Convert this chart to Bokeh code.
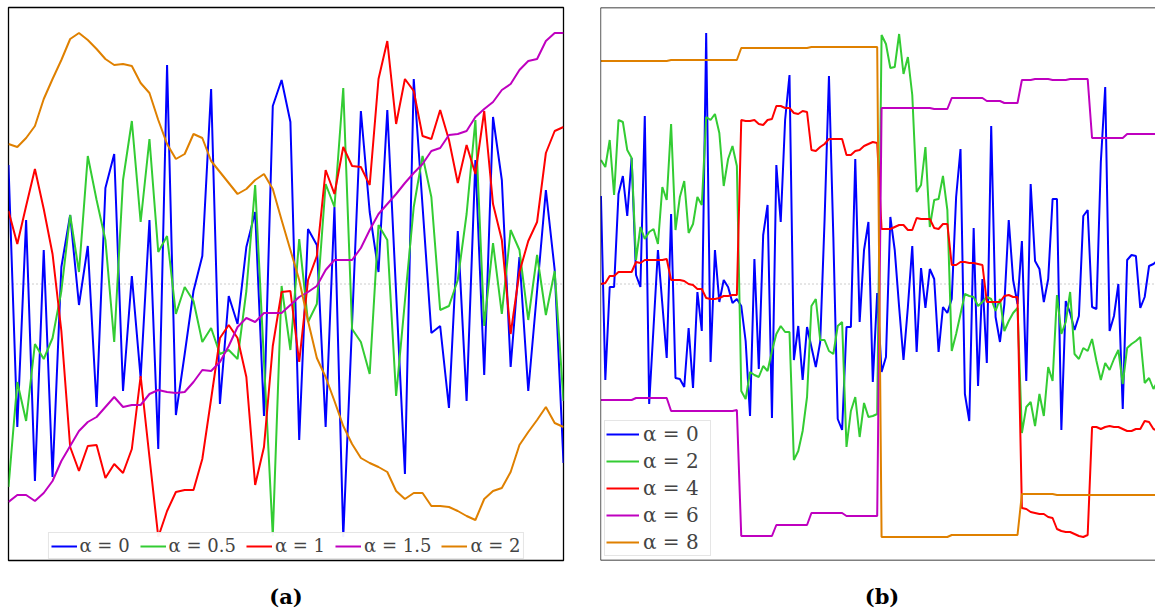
from bokeh.plotting import figure
from bokeh.models import Span, Range1d
from bokeh.layouts import row, column
from bokeh.embed import file_html
from bokeh.resources import INLINE

colors = ["#0000FF", "#33CC33", "#FF0000", "#BF00BF", "#DF8000"]
a_labels = ["α = 0", "α = 0.5", "α = 1", "α = 1.5", "α = 2"]
b_labels = ["α = 0", "α = 2", "α = 4", "α = 6", "α = 8"]
captions = ["(a)", "(b)"]

# ---------------- panel (a): 64 samples ----------------
a_alpha0 = [1.19, -1.43, 0.64, -1.97, 0.34, -1.93, 0.17, 0.69, -0.21, 0.38, -1.23, 0.96, 1.30, -1.07, 0.08, -0.94,
            0.64, -1.65, 2.19, -1.31, -0.70, -0.07, 0.28, 1.95, -1.20, -0.12, -0.40, 0.37, 0.72, -1.32, 1.78, 2.04,
            1.62, -1.56, 0.55, 0.39, -1.43, 0.77, -2.53, -0.40, 1.73, 0.72, 0.12, 1.74, -0.09, -1.90, 2.05, 0.78,
            -0.49, -0.42, -1.24, 0.53, -1.17, 1.24, -0.91, 1.67, 1.04, -0.83, 0.27, -1.07, -0.07, 0.94, 0.14, -1.79]
a_alpha05 = [-2.03, -0.98, -1.37, -0.60, -0.75, -0.54, -0.07, 0.69, 0.12, 1.28, 0.84, 0.44, -0.58, 1.04, 1.63, 0.62,
             1.45, 0.32, 0.48, -0.30, -0.03, -0.17, -0.58, -0.44, -0.70, -0.66, -0.75, -0.07, 0.99, -0.77, -2.52, -0.02,
             -0.66, 0.45, -0.38, -0.20, 1.00, 0.77, 1.96, -0.45, -0.58, -0.90, 0.59, 0.44, -1.12, -0.17, 0.77, 1.28,
             0.87, -0.26, -0.22, 0.04, 0.70, 1.64, -0.42, 0.41, -0.30, 0.54, 0.34, -0.36, 0.29, -0.31, 0.13, -1.17]
a_alpha1 = [0.73, 0.40, 0.78, 1.15, 0.75, 0.30, -0.47, -1.63, -1.87, -1.62, -1.61, -1.94, -1.80, -1.89, -1.65, -0.92,
            -1.73, -2.53, -2.27, -2.08, -2.06, -2.06, -1.75, -1.15, -0.54, -0.41, -0.54, -0.93, -2.01, -1.63, -0.62, -0.08,
            -0.07, -0.78, 0.04, 0.28, 1.14, 0.90, 1.37, 1.18, 1.17, 0.99, 2.05, 2.43, 1.60, 2.05, 1.93, 1.48,
            1.45, 1.74, 1.44, 1.01, 1.39, 1.10, 1.73, 0.80, 0.44, -0.50, 0.12, 0.43, 0.62, 1.31, 1.53, 1.57]
a_alpha15 = [-2.18, -2.11, -2.11, -2.17, -2.09, -1.97, -1.77, -1.62, -1.47, -1.38, -1.33, -1.23, -1.13, -1.23, -1.21, -1.21,
             -1.10, -1.06, -1.08, -1.09, -1.08, -0.98, -0.86, -0.87, -0.78, -0.62, -0.43, -0.34, -0.38, -0.29, -0.29, -0.29,
             -0.21, -0.13, -0.08, -0.02, 0.14, 0.24, 0.24, 0.24, 0.36, 0.54, 0.70, 0.80, 0.90, 1.01, 1.11, 1.20,
             1.33, 1.36, 1.49, 1.50, 1.53, 1.67, 1.75, 1.82, 1.94, 2.00, 2.14, 2.23, 2.25, 2.43, 2.51, 2.51]
a_alpha2 = [1.40, 1.37, 1.46, 1.58, 1.85, 2.05, 2.24, 2.45, 2.51, 2.44, 2.35, 2.25, 2.19, 2.20, 2.18, 2.01,
            1.91, 1.64, 1.40, 1.25, 1.30, 1.50, 1.46, 1.23, 1.12, 1.01, 0.90, 0.95, 1.04, 1.10, 0.95, 0.64,
            0.34, 0.04, -0.37, -0.74, -0.93, -1.17, -1.42, -1.60, -1.74, -1.79, -1.83, -1.88, -2.07, -2.15, -2.09, -2.09,
            -2.22, -2.22, -2.23, -2.27, -2.32, -2.36, -2.15, -2.07, -2.04, -1.88, -1.61, -1.48, -1.36, -1.23, -1.39, -1.43]

# ---------------- panel (b): 128 samples ----------------
b_alpha0 = [0.88, -0.96, -0.03, -0.03, 0.90, 1.08, 0.68, 1.26, 0.09, -0.03, 1.68, -1.20, -0.43, 0.34, -0.20, -0.74,
            0.70, -0.94, -0.95, -1.03, -0.44, -1.04, -0.08, -0.47, 2.51, -0.78, 0.34, -0.18, 0.04, -0.03, -0.19, -0.15,
            -0.22, -0.57, -1.32, 0.25, -0.85, 0.49, 0.79, -1.34, 1.19, 0.62, 1.64, 2.09, -0.76, -0.42, -0.96, -0.43,
            -0.63, -0.83, -0.58, 0.64, 2.08, 0.47, -1.35, -1.46, -0.43, -0.43, 1.25, -0.38, 0.34, 0.62, -0.98, -0.09,
            -0.88, -0.73, 0.67, 0.34, -0.23, -0.76, -0.23, 0.38, -0.68, 0.16, -0.24, 0.15, 0.05, -0.68, -0.23, -0.29,
            -0.15, 0.87, 1.35, -1.10, -1.37, 0.56, -1.02, 0.05, -0.79, 1.58, -0.33, -0.58, -0.20, 0.64, 0.04, -0.20,
            0.43, -0.97, 1.00, 0.23, 0.15, -0.18, 0.05, 0.85, 0.85, -1.46, -0.17, -0.29, -0.46, -0.32, 0.68, 0.74,
            -0.23, -0.25, 1.22, 1.97, -0.47, -0.32, 0.00, -1.25, 0.24, 0.29, 0.28, -0.24, -0.13, 0.18, 0.20, 0.24]
b_alpha2 = [1.24, 1.17, 1.44, 0.89, 1.64, 1.62, 1.34, 1.26, 0.24, 0.57, 0.45, 0.52, 0.55, 0.40, 0.97, 0.84,
            1.60, 0.54, 0.87, 1.03, 0.51, 0.60, 0.87, 0.79, 1.67, 1.64, 1.70, 1.51, 0.98, 1.25, 1.38, 1.18,
            -1.07, -1.15, -0.88, -0.91, -0.93, -0.82, -0.87, -0.67, -0.50, -0.42, -0.48, -0.48, -1.76, -1.67, -1.47, -1.13,
            -0.22, -0.15, -0.56, -0.56, -0.67, -0.70, -0.42, -0.38, -1.63, -1.27, -1.13, -1.53, -1.19, -1.33, -1.32, -1.30,
            2.49, 2.40, 2.16, 2.17, 2.50, 2.10, 2.27, 1.89, 0.92, 0.99, 1.37, 0.57, 0.84, 0.85, 1.08, 0.74,
            -0.67, -0.50, -0.30, -0.10, -0.12, -0.13, -0.22, -0.18, -0.13, -0.15, -0.27, -0.15, -0.47, -0.37, -0.29, -0.24,
            -1.49, -1.23, -1.18, -1.42, -1.10, -1.32, -0.83, -0.97, -0.11, -0.50, -0.38, -0.08, -0.70, -0.75, -0.64, -0.67,
            -0.55, -0.77, -0.96, -0.79, -0.86, -0.75, -0.66, -1.00, -0.64, -0.60, -0.57, -0.53, -0.99, -0.94, -1.05, -0.97]
b_alpha4 = [0.00, 0.01, 0.08, 0.08, 0.12, 0.12, 0.12, 0.12, 0.22, 0.21, 0.24, 0.24, 0.24, 0.24, 0.24, 0.25,
            0.04, 0.04, 0.04, 0.03, 0.00, -0.01, -0.05, -0.05, -0.14, -0.15, -0.15, -0.14, -0.12, -0.12, -0.11, -0.11,
            1.64, 1.63, 1.63, 1.64, 1.60, 1.59, 1.64, 1.65, 1.78, 1.78, 1.76, 1.76, 1.71, 1.70, 1.73, 1.72,
            1.34, 1.33, 1.37, 1.40, 1.45, 1.45, 1.45, 1.45, 1.29, 1.29, 1.33, 1.34, 1.38, 1.40, 1.42, 1.41,
            0.55, 0.55, 0.55, 0.57, 0.59, 0.59, 0.54, 0.54, 0.66, 0.65, 0.65, 0.65, 0.56, 0.55, 0.60, 0.60,
            0.19, 0.19, 0.22, 0.22, 0.21, 0.21, 0.20, 0.19, -0.18, -0.18, -0.18, -0.18, -0.12, -0.11, -0.13, -0.13,
            -2.24, -2.25, -2.28, -2.29, -2.30, -2.30, -2.33, -2.34, -2.45, -2.47, -2.48, -2.48, -2.50, -2.52, -2.53, -2.51,
            -1.43, -1.43, -1.45, -1.43, -1.42, -1.43, -1.43, -1.45, -1.47, -1.47, -1.45, -1.45, -1.37, -1.38, -1.45, -1.47]
b_alpha6 = [-1.16, -1.16, -1.16, -1.16, -1.16, -1.16, -1.16, -1.16, -1.14, -1.14, -1.14, -1.14, -1.14, -1.14, -1.14, -1.14,
            -1.27, -1.27, -1.27, -1.27, -1.27, -1.27, -1.27, -1.27, -1.27, -1.27, -1.27, -1.27, -1.27, -1.27, -1.27, -1.26,
            -2.52, -2.52, -2.52, -2.52, -2.52, -2.52, -2.52, -2.52, -2.41, -2.41, -2.41, -2.41, -2.41, -2.41, -2.41, -2.41,
            -2.29, -2.29, -2.29, -2.29, -2.29, -2.29, -2.29, -2.29, -2.32, -2.32, -2.32, -2.32, -2.32, -2.32, -2.32, -2.32,
            1.76, 1.76, 1.76, 1.76, 1.76, 1.76, 1.76, 1.76, 1.76, 1.76, 1.76, 1.76, 1.75, 1.75, 1.75, 1.75,
            1.86, 1.86, 1.86, 1.86, 1.86, 1.86, 1.86, 1.86, 1.83, 1.83, 1.83, 1.83, 1.81, 1.81, 1.81, 1.81,
            2.04, 2.04, 2.04, 2.05, 2.05, 2.05, 2.05, 2.04, 2.04, 2.04, 2.04, 2.05, 2.05, 2.05, 2.05, 2.05,
            1.46, 1.46, 1.46, 1.46, 1.46, 1.46, 1.46, 1.46, 1.50, 1.50, 1.50, 1.50, 1.50, 1.50, 1.50, 1.50]
b_alpha8 = [2.23, 2.23, 2.23, 2.23, 2.23, 2.23, 2.23, 2.23, 2.23, 2.23, 2.23, 2.23, 2.23, 2.23, 2.23, 2.23,
            2.24, 2.24, 2.24, 2.24, 2.24, 2.24, 2.24, 2.24, 2.24, 2.24, 2.24, 2.24, 2.24, 2.24, 2.24, 2.24,
            2.36, 2.36, 2.36, 2.36, 2.36, 2.36, 2.36, 2.36, 2.36, 2.36, 2.36, 2.36, 2.36, 2.36, 2.36, 2.36,
            2.37, 2.37, 2.37, 2.37, 2.37, 2.37, 2.37, 2.37, 2.37, 2.37, 2.37, 2.37, 2.37, 2.37, 2.37, 2.37,
            -2.53, -2.53, -2.53, -2.53, -2.53, -2.53, -2.53, -2.53, -2.53, -2.53, -2.53, -2.53, -2.53, -2.53, -2.53, -2.53,
            -2.51, -2.51, -2.51, -2.51, -2.51, -2.51, -2.51, -2.51, -2.51, -2.51, -2.51, -2.51, -2.51, -2.51, -2.51, -2.51,
            -2.10, -2.10, -2.10, -2.10, -2.10, -2.10, -2.10, -2.10, -2.11, -2.11, -2.11, -2.11, -2.11, -2.11, -2.11, -2.11,
            -2.11, -2.11, -2.11, -2.11, -2.11, -2.11, -2.11, -2.11, -2.11, -2.11, -2.11, -2.11, -2.11, -2.11, -2.11, -2.11]

a_series = [a_alpha0, a_alpha05, a_alpha1, a_alpha15, a_alpha2]
b_series = [b_alpha0, b_alpha2, b_alpha4, b_alpha6, b_alpha8]
Y_LIM = 2.765


def make_panel(series, labels, width, left, right, x_start, x_end):
    p = figure(width=width, height=562, output_backend="svg", toolbar_location=None,
               x_axis_type=None, y_axis_type=None,
               x_range=Range1d(x_start, x_end), y_range=Range1d(-Y_LIM, Y_LIM),
               min_border_left=left, min_border_right=right, min_border_top=7, min_border_bottom=2)
    p.background_fill_color = "white"
    p.border_fill_color = "white"
    p.add_layout(Span(location=0, dimension="width", line_color="#999999", line_width=1,
                      line_dash="1 3", level="underlay"))
    xs = list(range(len(series[0])))
    for ys, lab, col in zip(series, labels, colors):
        p.line(xs, ys, line_color=col, line_width=2, legend_label=lab)
    return p


def make_caption(text, width, left, right, dx):
    c = figure(width=width, height=52, output_backend="svg", toolbar_location=None,
               x_axis_type=None, y_axis_type=None, x_range=Range1d(0, 1), y_range=Range1d(0, 1),
               min_border_left=left, min_border_right=right, min_border_top=0, min_border_bottom=0)
    c.outline_line_color = None
    c.text(x=[0.5], y=[0.5], text=[text], text_align="center", text_baseline="middle",
           x_offset=dx, y_offset=8, text_font={"value": "DejaVu Serif"}, text_font_style="bold",
           text_font_size="21px", text_color="black")
    return c


pa = make_panel(a_series, a_labels, 582, 8, 19, 0, 63)
pa.outline_line_color = "black"
pa.outline_line_width = 1.3
lg = pa.legend[0]
lg.orientation = "horizontal"
lg.location = "bottom"
lg.margin = 1
lg.padding = 2
lg.spacing = 10
lg.glyph_width = 26
lg.glyph_height = 18
lg.label_height = 18
lg.label_standoff = 3
lg.label_text_font = "DejaVu Serif"
lg.label_text_font_size = "18px"
lg.border_line_color = "#CCCCCC"
lg.border_line_width = 1.5

b_end = -0.1 + 555 / 4.385
pb = make_panel(b_series, b_labels, 573, 18, 0, -0.1, b_end)
pb.outline_line_color = None
for loc, dim in [(Y_LIM, "width"), (-Y_LIM, "width"), (-0.1, "height")]:
    pb.add_layout(Span(location=loc, dimension=dim, line_color="black", line_width=1.3))
lg = pb.legend[0]
lg.location = "bottom_left"
lg.margin = 4
lg.padding = 1
lg.spacing = 3
lg.glyph_width = 33
lg.glyph_height = 20
lg.label_height = 20
lg.label_width = 66
lg.label_standoff = 4
lg.label_text_font = "DejaVu Serif"
lg.label_text_font_size = "20px"
lg.border_line_color = "#CCCCCC"
lg.border_line_width = 1.5

ca = make_caption(captions[0], 582, 8, 19, 0)
cb = make_caption(captions[1], 573, 18, 0, 4)

layout = column(row(pa, pb), row(ca, cb))
open("out.html", "w").write(file_html(layout, INLINE))
